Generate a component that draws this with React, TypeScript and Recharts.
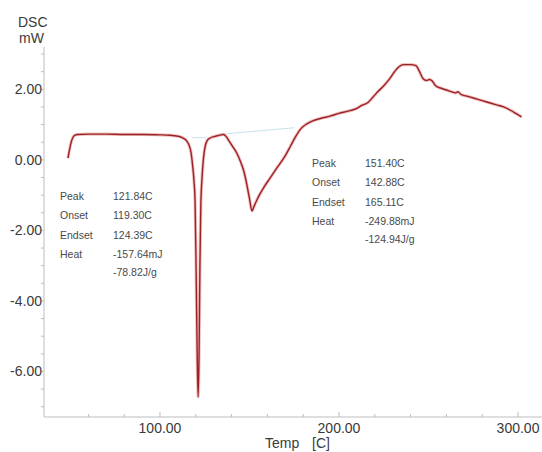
import { LineChart, Line, XAxis, YAxis, ReferenceLine } from 'recharts';

// DSC scan: temperature (C) vs heat flow (mW)
const temps = [
  48.6, 49.5, 50.5, 51.4, 52.5, 54, 60, 70, 80, 90, 100, 105, 110, 112, 113.5, 115, 116.2, 117.2,
  118.2, 119.0, 119.6, 120.2, 120.8, 121.3, 121.8, 122.3, 122.8, 123.5, 124.3, 125.3, 126.5, 128,
  131, 134, 135.5, 137, 139, 141, 143, 145, 147, 148.5, 150, 151.4, 152.5, 154, 156, 158, 161, 165,
  170, 173, 176, 179, 182, 185, 190, 195, 200, 205, 210, 213, 216, 219, 222, 225, 228, 231, 233.5,
  236, 240, 243, 245, 247, 249, 250.5, 252, 254, 257, 260, 263, 265, 266.5, 268, 272, 276, 280, 284,
  288, 292, 296, 299, 302,
];
const dscMw = [
  0.05, 0.3, 0.52, 0.64, 0.7, 0.72, 0.73, 0.73, 0.72, 0.72, 0.71, 0.7, 0.67, 0.64, 0.6, 0.53, 0.42, 0.25,
  -0.15, -0.6, -1.2, -3.2, -5.6, -6.72, -5.6, -3.0, -1.3, -0.5, 0.05, 0.4, 0.56, 0.62,
  0.67, 0.71, 0.72, 0.66, 0.5, 0.35, 0.18, -0.05, -0.35, -0.7, -1.1, -1.45, -1.32, -1.15, -0.95, -0.78, -0.55, -0.25,
  0.12, 0.4, 0.68, 0.9, 1.02, 1.1, 1.18, 1.24, 1.32, 1.38, 1.46, 1.55, 1.62, 1.78, 1.95, 2.1, 2.28, 2.5, 2.64,
  2.7, 2.7, 2.67, 2.5, 2.3, 2.25, 2.28, 2.24, 2.1, 2.03, 1.98, 1.93, 1.9, 1.93, 1.86, 1.8, 1.74, 1.68, 1.62,
  1.56, 1.5, 1.4, 1.31, 1.22,
];

// integration baselines under the two endotherms
const baseline1 = [
  { x: 118, y: 0.63 },
  { x: 125.5, y: 0.63 },
];
const baseline2 = [
  { x: 137, y: 0.74 },
  { x: 175, y: 0.91 },
];

const xTicks = [60, 80, 100, 120, 140, 160, 180, 200, 220, 240, 260, 280, 300];
const yTicks = [-7, -6.5, -6, -5.5, -5, -4.5, -4, -3.5, -3, -2.5, -2, -1.5, -1, -0.5, 0, 0.5, 1, 1.5, 2, 2.5, 3];

const peak1 = [
  ['Peak', '121.84C'],
  ['Onset', '119.30C'],
  ['Endset', '124.39C'],
  ['Heat', '-157.64mJ'],
  ['', '-78.82J/g'],
];
const peak2 = [
  ['Peak', '151.40C'],
  ['Onset', '142.88C'],
  ['Endset', '165.11C'],
  ['Heat', '-249.88mJ'],
  ['', '-124.94J/g'],
];

const data = temps.map((t, i) => ({ t, v: dscMw[i] }));

const FONT = "'Liberation Sans', Arial, sans-serif";
const AXIS = '#bdbdbd';
const TEXT = '#3a3a3a';

const XTick = (props: any) => {
  const { x, y, payload } = props;
  const major = payload.value % 100 === 0;
  return (
    <g>
      <line x1={x} x2={x} y1={y} y2={y - (major ? 5 : 3)} stroke={AXIS} />
      {major && (
        <text x={x} y={y + 16} textAnchor="middle" fontSize={14} fill={TEXT} fontFamily={FONT}>
          {payload.value.toFixed(2)}
        </text>
      )}
    </g>
  );
};

const YTick = (props: any) => {
  const { x, y, payload } = props;
  const major = payload.value % 2 === 0;
  return (
    <g>
      <line x1={x - 3} x2={x} y1={y} y2={y} stroke={AXIS} />
      {major && (
        <text x={x - 2} y={y + 5} textAnchor="end" fontSize={14} fill={TEXT} fontFamily={FONT}>
          {payload.value.toFixed(2)}
        </text>
      )}
    </g>
  );
};

const rowOffsets = [0, 19, 39, 58, 76];

function InfoBlock({ rows, x, y }: { rows: string[][]; x: number; y: number }) {
  return (
    <g fontFamily={FONT} fontSize={10.5} fill="#4a4a4a">
      {rows.map((r, i) => (
        <g key={i}>
          <text x={x} y={y + rowOffsets[i]}>{r[0]}</text>
          <text x={x + 53} y={y + rowOffsets[i]}>{r[1]}</text>
        </g>
      ))}
    </g>
  );
}

export default function App() {
  return (
    <div style={{ position: 'absolute', left: 0, top: 0, width: 542, height: 452, background: '#fff' }}>
      <LineChart width={542} height={452} data={data} margin={{ top: 47, right: 0, bottom: 0, left: 0 }}>
        <XAxis
          xAxisId="top"
          orientation="top"
          type="number"
          dataKey="t"
          domain={[35.2, 313.4]}
          allowDataOverflow
          height={0}
          tick={false}
          tickLine={false}
          axisLine={{ stroke: AXIS }}
        />
        <XAxis
          type="number"
          dataKey="t"
          domain={[35.2, 313.4]}
          allowDataOverflow
          ticks={xTicks}
          interval={0}
          height={35}
          tickSize={0}
          tickMargin={0}
          tickLine={false}
          axisLine={{ stroke: AXIS }}
          tick={XTick}
        />
        <YAxis
          type="number"
          domain={[-7.29, 3.2]}
          allowDataOverflow
          ticks={yTicks}
          interval={0}
          width={44}
          tickSize={0}
          tickMargin={0}
          tickLine={false}
          axisLine={{ stroke: AXIS }}
          tick={YTick}
        />
        <ReferenceLine segment={baseline1} stroke="#c4e3ea" strokeWidth={1} />
        <ReferenceLine segment={baseline2} stroke="#c4e3ea" strokeWidth={1} />
        <Line
          type="monotone"
          dataKey="v"
          stroke="#eaa5a5"
          strokeOpacity={0.7}
          strokeWidth={3.2}
          dot={false}
          activeDot={false}
          isAnimationActive={false}
        />
        <Line
          type="monotone"
          dataKey="v"
          stroke="#9b2226"
          strokeWidth={1.4}
          dot={false}
          activeDot={false}
          isAnimationActive={false}
        />
      </LineChart>
      <svg width={542} height={452} style={{ position: 'absolute', left: 0, top: 0, pointerEvents: 'none' }}>
        <text x={18} y={27} fontSize={14} fill={TEXT} fontFamily={FONT}>DSC</text>
        <text x={19} y={43} fontSize={14} fill={TEXT} fontFamily={FONT}>mW</text>
        <text x={265} y={448} fontSize={14} fill={TEXT} fontFamily={FONT}>Temp</text>
        <text x={312} y={448} fontSize={14} fill={TEXT} fontFamily={FONT}>[C]</text>
        <InfoBlock rows={peak1} x={60} y={200} />
        <InfoBlock rows={peak2} x={312} y={167} />
      </svg>
    </div>
  );
}
